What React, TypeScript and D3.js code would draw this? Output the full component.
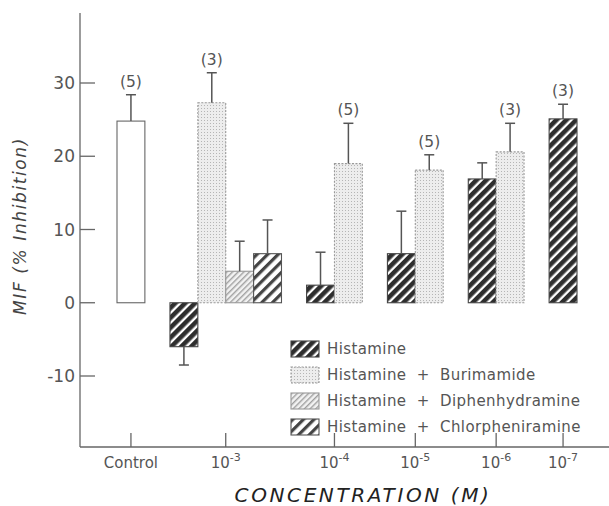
import React from 'react';
import * as d3 from 'd3';

// values (MIF, % inhibition)
const groups = ['Control', '-3', '-4', '-5', '-6', '-7'];
const barGroup = ['Control', '-3', '-3', '-3', '-3', '-4', '-4', '-5', '-5', '-6', '-6', '-7'];
const barSeries = ['control', 'hist', 'buri', 'diph', 'chlor', 'hist', 'buri', 'hist', 'buri', 'hist', 'buri', 'hist'];
const barValue = [24.8, -6.0, 27.3, 4.3, 6.7, 2.4, 19.0, 6.7, 18.1, 16.9, 20.6, 25.1];
const barError = [28.4, -8.5, 31.4, 8.4, 11.3, 6.9, 24.5, 12.5, 20.2, 19.1, 24.5, 27.1];
const barN = ['(5)', '', '(3)', '', '', '', '(5)', '', '(5)', '', '(3)', '(3)'];

const yTicks = [-10, 0, 10, 20, 30];
const legendKeys = ['hist', 'buri', 'diph', 'chlor'];
const legendLabels = [
  'Histamine',
  'Histamine  +  Burimamide',
  'Histamine  +  Diphenhydramine',
  'Histamine  +  Chlorpheniramine',
];

const fills = {
  control: '#ffffff',
  hist: 'url(#pHist)',
  buri: 'url(#pBuri)',
  diph: 'url(#pDiph)',
  chlor: 'url(#pChlor)',
};
const strokes = {
  control: '#666',
  hist: '#444',
  buri: '#999',
  diph: '#999',
  chlor: '#555',
};

const GAP = 0.9; // gap between groups, in bar widths
const FONT = '"DejaVu Sans", sans-serif';
const TXT = '#555';

function App() {
  // slot positions of each bar
  const starts: number[] = [];
  let pos = 0;
  barGroup.forEach((g, i) => {
    if (i > 0 && g !== barGroup[i - 1]) pos += GAP;
    starts.push(pos);
    pos += 1;
  });
  const x = d3.scaleLinear().domain([0, pos]).range([117, 577]);
  const y = d3.scaleLinear().domain([-10, 30]).range([376, 83]);
  const bw = x(1) - x(0);

  const groupCenter = (g: string) => {
    const idx = barGroup.map((b, i) => (b === g ? i : -1)).filter((i) => i >= 0);
    return (x(starts[idx[0]]) + x(starts[idx[idx.length - 1]] + 1)) / 2;
  };

  const axisX = 80;
  const axisY = 447;

  return (
    <svg
      width={609}
      height={506}
      style={{ position: 'absolute', left: 0, top: 0, background: '#fff' }}
    >
      <defs>
        <pattern id="pHist" width="7" height="7" patternUnits="userSpaceOnUse" patternTransform="rotate(45)">
          <rect width="7" height="7" fill="#fff" />
          <rect width="4.6" height="7" fill="#2e2e2e" />
        </pattern>
        <pattern id="pChlor" width="7.5" height="7.5" patternUnits="userSpaceOnUse" patternTransform="rotate(45)">
          <rect width="7.5" height="7.5" fill="#fff" />
          <rect width="3.2" height="7.5" fill="#444" />
        </pattern>
        <pattern id="pDiph" width="4" height="4" patternUnits="userSpaceOnUse" patternTransform="rotate(45)">
          <rect width="4" height="4" fill="#f2f2f2" />
          <rect width="1.4" height="4" fill="#a0a0a0" />
        </pattern>
        <pattern id="pBuri" width="3" height="3" patternUnits="userSpaceOnUse">
          <rect width="3" height="3" fill="#ededed" />
          <rect width="1" height="1" fill="#b5b5b5" />
        </pattern>
      </defs>

      {/* axes */}
      <line x1={axisX} y1={13} x2={axisX} y2={axisY} stroke="#666" strokeWidth={1.3} />
      <line x1={axisX} y1={axisY} x2={609} y2={axisY} stroke="#666" strokeWidth={1.3} />
      {yTicks.map((t) => (
        <g key={t}>
          <line x1={axisX} x2={axisX + 15} y1={y(t)} y2={y(t)} stroke="#666" strokeWidth={1.3} />
          <text
            x={axisX - 5}
            y={y(t)}
            dy="0.36em"
            textAnchor="end"
            fontFamily={FONT}
            fontSize={17}
            fill={TXT}
          >
            {t}
          </text>
        </g>
      ))}
      {groups.map((g) => {
        const cx = groupCenter(g);
        return (
          <g key={g}>
            <line x1={cx} x2={cx} y1={axisY} y2={axisY - 14} stroke="#666" strokeWidth={1.3} />
            <text x={cx} y={468} textAnchor="middle" fontFamily={FONT} fontSize={15} fill={TXT}>
              {g === 'Control' ? (
                'Control'
              ) : (
                <>
                  10
                  <tspan dy={-7} fontSize={11}>
                    {g}
                  </tspan>
                </>
              )}
            </text>
          </g>
        );
      })}

      {/* bars */}
      {barValue.map((v, i) => {
        const s = barSeries[i];
        const x0 = x(starts[i]);
        const cx = x0 + bw / 2;
        const top = Math.min(y(v), y(0));
        const h = Math.abs(y(v) - y(0));
        const e = y(barError[i]);
        return (
          <g key={i}>
            <rect
              x={x0}
              y={top}
              width={bw}
              height={h}
              fill={fills[s]}
              stroke={strokes[s]}
              strokeWidth={1.1}
              strokeDasharray={s === 'buri' ? '2,1.5' : undefined}
            />
            <line x1={cx} x2={cx} y1={y(v)} y2={e} stroke="#555" strokeWidth={1.5} />
            <line x1={cx - 5} x2={cx + 5} y1={e} y2={e} stroke="#555" strokeWidth={1.5} />
            {barN[i] && (
              <text x={cx} y={e - 8} textAnchor="middle" fontFamily={FONT} fontSize={15.5} fill={TXT}>
                {barN[i]}
              </text>
            )}
          </g>
        );
      })}

      {/* legend */}
      {legendKeys.map((k, i) => (
        <g key={k} transform={`translate(291,${341 + i * 26})`}>
          <rect
            width={28}
            height={16}
            fill={fills[k]}
            stroke={strokes[k]}
            strokeWidth={1.1}
            strokeDasharray={k === 'buri' ? '2,1.5' : undefined}
          />
          <text
            x={36}
            y={8}
            dy="0.36em"
            fontFamily={FONT}
            fontSize={15}
            letterSpacing={0.4}
            fill={TXT}
            style={{ whiteSpace: 'pre' }}
          >
            {legendLabels[i]}
          </text>
        </g>
      ))}

      {/* axis titles */}
      <text
        transform="translate(26,226) rotate(-90)"
        textAnchor="middle"
        fontFamily={FONT}
        fontStyle="italic"
        fontSize={17}
        fill="#444"
        letterSpacing={1.6}
      >
        MIF (% Inhibition)
      </text>
      <text
        x={363}
        y={502}
        textAnchor="middle"
        fontFamily={FONT}
        fontStyle="italic"
        fontSize={20}
        fill="#222"
        letterSpacing={2.6}
      >
        CONCENTRATION (M)
      </text>
    </svg>
  );
}

export default App;
